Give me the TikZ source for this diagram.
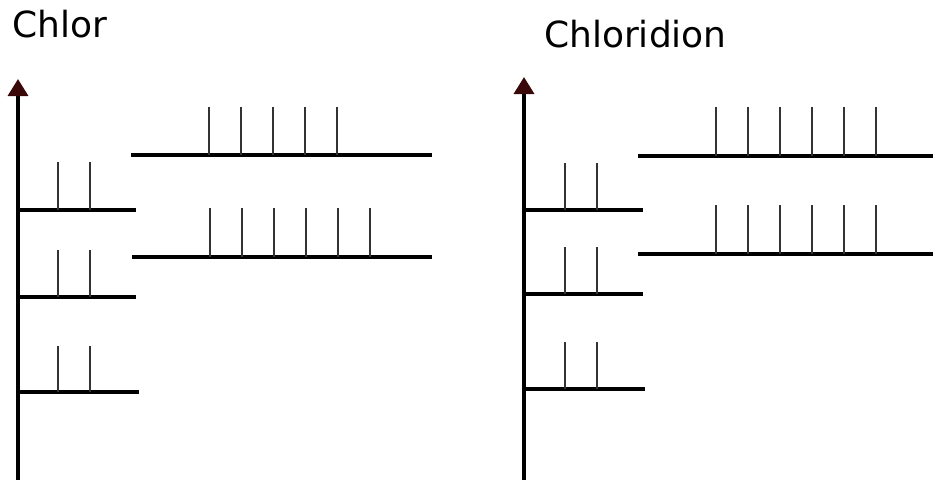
\documentclass[tikz,border=0pt]{standalone}
\usepackage{fontspec}
\setmainfont{DejaVu Sans}
\usetikzlibrary{arrows.meta}
\definecolor{arrowred}{HTML}{3A0808}
\definecolor{tickgray}{HTML}{333333}
\tikzset{
  axisline/.style={line width=3.4pt, black, -{Triangle[width=20pt,length=17pt,color=arrowred]}},
  chainline/.style={line width=3.3pt, black},
  tickline/.style={line width=1.4pt, tickgray},
  title/.style={anchor=base west, inner sep=0pt, font=\fontsize{36}{42}\selectfont}
}
\begin{document}
\begin{tikzpicture}[x=1pt,y=-1pt]
\useasboundingbox (0,0) rectangle (933,479);
% ---------- left panel ----------
\node[title] (t1) at (12,37) {Chlor};
\coordinate (a1b) at (18,481);
\coordinate (a1t) at (18,79);
\draw[axisline] (a1b) -- (a1t);
% short branches
\foreach \y/\r/\t in {210/136/162, 297/136/250, 392/139/346}{
  \draw[chainline] (18,\y) -- (\r,\y);
  \foreach \x in {58,90}{\draw[tickline] (\x,\y) -- (\x,\t);}
}
% long chains
\draw[chainline] (131,155) -- (432,155);
\foreach \x in {209,241,273,305,337}{\draw[tickline] (\x,155) -- (\x,107);}
\draw[chainline] (132,257) -- (432,257);
\foreach \x in {210,242,274,306,338,370}{\draw[tickline] (\x,257) -- (\x,208);}
% ---------- right panel ----------
\node[title] (t2) at (544,47) {Chloridion};
\coordinate (a2b) at (524,481);
\coordinate (a2t) at (524,77);
\draw[axisline] (a2b) -- (a2t);
\foreach \y/\r/\t in {210/643/163, 294/643/247, 389/645/342}{
  \draw[chainline] (524,\y) -- (\r,\y);
  \foreach \x in {565,597}{\draw[tickline] (\x,\y) -- (\x,\t);}
}
\draw[chainline] (638,156) -- (935,156);
\foreach \x in {716,748,780,812,844,876}{\draw[tickline] (\x,156) -- (\x,107);}
\draw[chainline] (638,254) -- (935,254);
\foreach \x in {716,748,780,812,844,876}{\draw[tickline] (\x,254) -- (\x,205);}
\end{tikzpicture}
\end{document}
